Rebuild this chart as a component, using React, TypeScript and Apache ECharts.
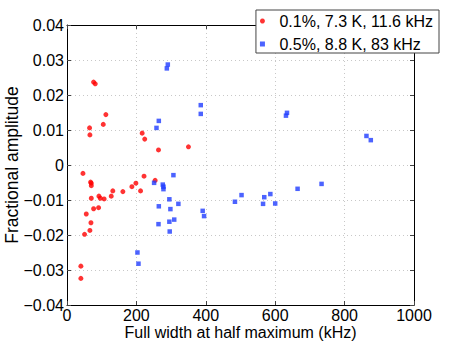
import React, { useEffect, useRef } from "react";
import * as echarts from "echarts";

const redX = [76.6, 81.4, 65, 66, 104.5, 112, 216.6, 224, 263.7, 350, 46, 68, 70, 70, 70, 76.7, 92, 96, 107, 91, 127.5, 132, 161, 187, 198.5, 212, 222, 254, 55.5, 69, 66, 50.6, 40, 40];
const redY = [0.0237, 0.0232, 0.0106, 0.0086, 0.0116, 0.0144, 0.0091, 0.0074, 0.0043, 0.0052, -0.0024, -0.0049, -0.0052, -0.0059, -0.0095, -0.0125, -0.0089, -0.0095, -0.0097, -0.0122, -0.0089, -0.0074, -0.0076, -0.0062, -0.0052, -0.0074, -0.0032, -0.0044, -0.014, -0.0165, -0.0187, -0.0198, -0.0289, -0.0324];

const blueX = [287.7, 290.5, 385.5, 385.5, 264.6, 257.9, 251, 276, 278, 278, 306.7, 295, 321, 264.6, 298, 263.7, 295, 309, 296, 391, 395, 484, 503, 203, 206, 631, 634, 863, 875.5, 568.5, 565, 586, 600, 664.5, 733.6];
const blueY = [0.0276, 0.0287, 0.0171, 0.0146, 0.0126, 0.0106, -0.0051, -0.0056, -0.0062, -0.0069, -0.0029, -0.0098, -0.0111, -0.0118, -0.0126, -0.0169, -0.0162, -0.0156, -0.019, -0.0131, -0.0146, -0.0105, -0.0086, -0.025, -0.0282, 0.0141, 0.0149, 0.0083, 0.0071, -0.0092, -0.0111, -0.0083, -0.011, -0.0068, -0.0054];

const seriesNames = ["0.1%, 7.3 K, 11.6 kHz", "0.5%, 8.8 K, 83 kHz"];
const xTicks = { min: 0, max: 1000, interval: 200 };
const yTicks = { min: -0.04, max: 0.04, interval: 0.01 };

const FONT = "'Liberation Sans', Arial, sans-serif";

export default function App() {
  const ref = useRef<HTMLDivElement>(null);
  useEffect(() => {
    const chart = echarts.init(ref.current!, null, { renderer: "svg" });
    const fmtY = (v: number) => {
      if (Math.abs(v) < 1e-9) return "0";
      return v.toFixed(2).replace("-", "\u2212");
    };
    const fmtX = (v: number) => String(Math.round(v));
    const gridLine = { show: true, lineStyle: { color: "#c8c8c8", type: [1, 3] as any, width: 1 } };
    const axisLine = { show: true, onZero: false, lineStyle: { color: "#000", width: 1 } };
    const tick = { show: true, inside: true, length: 4, lineStyle: { color: "#444" } };
    chart.setOption({
      animation: false,
      backgroundColor: "#fff",
      grid: { left: 67, right: 43, top: 25, bottom: 38, containLabel: false, outerBoundsMode: "none" },
      legend: {
        show: true,
        right: 18,
        top: 10,
        orient: "vertical",
        itemWidth: 24,
        itemHeight: 5,
        itemGap: 7,
        padding: [3, 6, 1, 4],
        borderColor: "#444",
        borderWidth: 1,
        backgroundColor: "#fff",
        symbolKeepAspect: true,
        textStyle: { fontFamily: FONT, fontSize: 16, color: "#000" },
        data: [
          { name: seriesNames[0], icon: "circle", itemStyle: { color: "#ff0000" } },
          { name: seriesNames[1], icon: "path://M0 0H10V10H0Z", itemStyle: { color: "#1f3cff" } },
        ],
      },
      xAxis: [
        {
          type: "value",
          min: xTicks.min,
          max: xTicks.max,
          interval: xTicks.interval,
          name: "Full width at half maximum (kHz)",
          nameLocation: "middle",
          nameGap: 19,
          nameMoveOverlap: false,
          nameTextStyle: { fontFamily: FONT, fontSize: 16, color: "#000" },
          axisLine,
          axisTick: tick,
          splitLine: gridLine,
          axisLabel: { fontFamily: FONT, fontSize: 16, color: "#000", margin: 2, formatter: fmtX },
        },
        {
          type: "value",
          position: "top",
          min: xTicks.min,
          max: xTicks.max,
          interval: xTicks.interval,
          axisLine,
          axisTick: tick,
          splitLine: { show: false },
          axisLabel: { show: false },
        },
      ],
      yAxis: [
        {
          type: "value",
          min: yTicks.min,
          max: yTicks.max,
          interval: yTicks.interval,
          name: "Fractional amplitude",
          nameLocation: "middle",
          nameGap: 46,
          nameMoveOverlap: false,
          nameTextStyle: { fontFamily: FONT, fontSize: 17.5, color: "#000" },
          axisLine,
          axisTick: tick,
          splitLine: gridLine,
          axisLabel: { fontFamily: FONT, fontSize: 16, color: "#000", margin: 3, formatter: fmtY },
        },
        {
          type: "value",
          position: "right",
          min: yTicks.min,
          max: yTicks.max,
          interval: yTicks.interval,
          axisLine,
          axisTick: tick,
          splitLine: { show: false },
          axisLabel: { show: false },
        },
      ],
      series: [
        {
          name: seriesNames[0],
          type: "scatter",
          symbol: "circle",
          symbolSize: 5,
          itemStyle: { color: "#ff0000" },
          data: redX.map((x, i) => [x, redY[i]]),
        },
        {
          name: seriesNames[1],
          type: "scatter",
          symbol: "rect",
          symbolSize: 4.5,
          itemStyle: { color: "#1f3cff" },
          data: blueX.map((x, i) => [x, blueY[i]]),
        },
      ],
    });
    return () => chart.dispose();
  }, []);
  return <div ref={ref} style={{ width: 457, height: 343, position: "absolute", left: 0, top: 0 }} />;
}
